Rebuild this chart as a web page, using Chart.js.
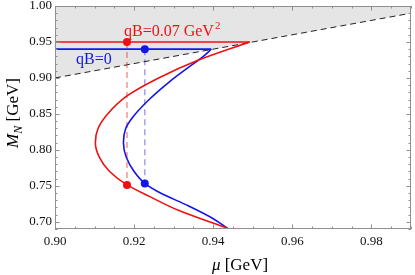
<!DOCTYPE html>
<html>
<head>
<meta charset="utf-8">
<script src="https://cdn.jsdelivr.net/npm/chart.js@4/dist/chart.umd.min.js"></script>
<style>
  body { margin: 0; background: #fff; }
  #wrap { width: 415px; height: 275px; }
</style>
</head>
<body>
<div id="wrap"><canvas id="c" width="415" height="275"></canvas></div>
<script>
// tick labels
const xTicks = [0.90, 0.92, 0.94, 0.96, 0.98];
const yTicks = [0.70, 0.75, 0.80, 0.85, 0.90, 0.95, 1.00];

// qB = 0.07 GeV^2 (red) branch (M increasing)
const redM  = [0.691, 0.716, 0.735, 0.751, 0.770, 0.790, 0.810, 0.830, 0.850, 0.875, 0.900, 0.925, 0.950];
const redMu = [0.9436, 0.9312, 0.9240, 0.9183, 0.9138, 0.9112, 0.9102, 0.9109, 0.9133, 0.9182, 0.9262, 0.9363, 0.9492];

// qB = 0 (blue) branch
const blueM  = [0.691, 0.705, 0.722, 0.741, 0.753, 0.770, 0.790, 0.810, 0.830, 0.845, 0.870, 0.895, 0.915, 0.930, 0.940];
const blueMu = [0.9436, 0.9398, 0.9338, 0.9263, 0.9228, 0.9200, 0.9180, 0.9173, 0.9179, 0.9196, 0.9238, 0.9290, 0.9338, 0.9375, 0.9395];

// horizontal (first order) lines
const redLineMu = [0.90, 0.9492];
const redLineM  = [0.95, 0.95];
const blueLineMu = [0.90, 0.9395];
const blueLineM  = [0.94, 0.94];

// marked points
const redDotMu = [0.9182, 0.9182];
const redDotM  = [0.950, 0.751];
const blueDotMu = [0.9227, 0.9227];
const blueDotM  = [0.940, 0.7533];

// M = mu boundary
const diagMu = [0.90, 0.99];
const diagM  = [0.90, 0.99];

const pts = (xs, ys) => xs.map((v, i) => ({x: v, y: ys[i]}));

const RED = '#f01010';
const BLUE = '#1414f0';
const SERIF = "'Liberation Serif', 'DejaVu Serif', serif";

const frame = {
  id: 'frame',
  afterDraw(chart) {
    const {ctx, chartArea: a, scales: {x, y}} = chart;
    ctx.save();
    ctx.strokeStyle = '#8f8f8f';
    ctx.lineWidth = 1;
    ctx.strokeRect(a.left + 0.5, a.top + 0.5, a.right - a.left - 1, a.bottom - a.top - 1);

    // ticks on all four sides, pointing in
    ctx.beginPath();
    for (let i = 0; i <= 18; i++) {
      const v = 0.90 + i * 0.005;
      const px = Math.round(x.getPixelForValue(v)) + 0.5;
      const len = i % 4 === 0 ? 4.5 : 2.5;
      ctx.moveTo(px, a.bottom); ctx.lineTo(px, a.bottom - len);
      ctx.moveTo(px, a.top); ctx.lineTo(px, a.top + len);
    }
    for (let i = 0; i <= 31; i++) {
      const v = 0.69 + i * 0.01;
      const py = Math.round(y.getPixelForValue(v)) + 0.5;
      const len = (i - 1) % 5 === 0 ? 4.5 : 2.5;
      ctx.moveTo(a.left, py); ctx.lineTo(a.left + len, py);
      ctx.moveTo(a.right, py); ctx.lineTo(a.right - len, py);
    }
    ctx.stroke();

    // axis titles
    ctx.fillStyle = '#000';
    ctx.textBaseline = 'alphabetic';
    ctx.textAlign = 'left';
    const fi = 'italic 17px ' + SERIF, fn = '17px ' + SERIF, fs = 'italic 12px ' + SERIF;

    ctx.font = fi; const wMu = ctx.measureText('\u03bc').width;
    ctx.font = fn; const wG = ctx.measureText(' [GeV]').width;
    let sx = 240 - (wMu + wG) / 2;
    ctx.font = fi; ctx.fillText('\u03bc', sx, 270);
    ctx.font = fn; ctx.fillText(' [GeV]', sx + wMu, 270);

    ctx.save();
    ctx.translate(18, 113);
    ctx.rotate(-Math.PI / 2);
    ctx.font = fi; const wM = ctx.measureText('M').width;
    ctx.font = fs; const wN = ctx.measureText('N').width;
    ctx.font = fn; const wB = ctx.measureText(' [GeV]').width;
    sx = -(wM + wN + wB) / 2;
    ctx.font = fi; ctx.fillText('M', sx, 0);
    ctx.font = fs; ctx.fillText('N', sx + wM, 4);
    ctx.font = fn; ctx.fillText(' [GeV]', sx + wM + wN, 0);
    ctx.restore();

    // curve labels
    ctx.font = '16px ' + SERIF;
    ctx.fillStyle = RED;
    const lx = 124, ly = 36;
    const main = 'qB=0.07 GeV';
    ctx.fillText(main, lx, ly);
    const wMain = ctx.measureText(main).width;
    ctx.font = '11px ' + SERIF;
    ctx.fillText('2', lx + wMain + 1, ly - 7);

    ctx.font = '16px ' + SERIF;
    ctx.fillStyle = BLUE;
    ctx.fillText('qB=0', 76, 64);
    ctx.restore();
  }
};

const noPad = (s) => { s.paddingTop = 0; s.paddingBottom = 0; s.paddingLeft = 0; s.paddingRight = 0; };

const curve = (xs, ys, color) => ({
  data: pts(xs, ys), indexAxis: 'y', borderColor: color, borderWidth: 1.6,
  pointRadius: 0, cubicInterpolationMode: 'monotone', fill: false, order: 1
});
const seg = (xs, ys, color, dash, width, order) => ({
  data: pts(xs, ys), borderColor: color, borderDash: dash, borderWidth: width,
  pointRadius: 0, tension: 0, fill: false, order: order
});
const dots = (xs, ys, color) => ({
  data: pts(xs, ys), showLine: false, pointRadius: 4, pointBackgroundColor: color,
  pointBorderWidth: 0, order: 0
});

new Chart(document.getElementById('c'), {
  type: 'line',
  data: {
    datasets: [
      dots(redDotMu, redDotM, RED),
      dots(blueDotMu, blueDotM, BLUE),
      curve(redMu, redM, RED),
      curve(blueMu, blueM, BLUE),
      seg(redLineMu, redLineM, RED, [], 1.6, 1),
      seg(blueLineMu, blueLineM, BLUE, [], 1.6, 1),
      seg(redDotMu, redDotM, 'rgba(240,16,16,0.45)', [6, 4], 1.5, 2),
      seg(blueDotMu, blueDotM, 'rgba(20,20,240,0.4)', [6, 4], 1.5, 2),
      Object.assign(seg(diagMu, diagM, '#222', [6, 4], 1, 3), { fill: 'end', backgroundColor: '#e5e5e5' })
    ]
  },
  options: {
    responsive: false,
    animation: false,
    layout: { padding: { top: 6, right: 1, left: 0, bottom: 0 } },
    plugins: { legend: { display: false }, tooltip: { enabled: false } },
    scales: {
      x: {
        type: 'linear', min: 0.90, max: 0.99,
        grid: { display: false, drawTicks: false },
        border: { display: false },
        afterBuildTicks: (s) => { s.ticks = xTicks.map(v => ({value: v})); },
        afterFit: (s) => { s.height = 46; noPad(s); },
        ticks: { padding: 5, maxRotation: 0, color: '#111', font: { family: SERIF, size: 13 }, callback: (v) => v.toFixed(2) }
      },
      y: {
        type: 'linear', min: 0.69, max: 1.00,
        grid: { display: false, drawTicks: false },
        border: { display: false },
        afterBuildTicks: (s) => { s.ticks = yTicks.map(v => ({value: v})); },
        afterFit: (s) => { s.width = 55; noPad(s); },
        ticks: { padding: 3, color: '#111', font: { family: SERIF, size: 13 }, callback: (v) => v.toFixed(2) }
      }
    }
  },
  plugins: [frame]
});
</script>
</body>
</html>
